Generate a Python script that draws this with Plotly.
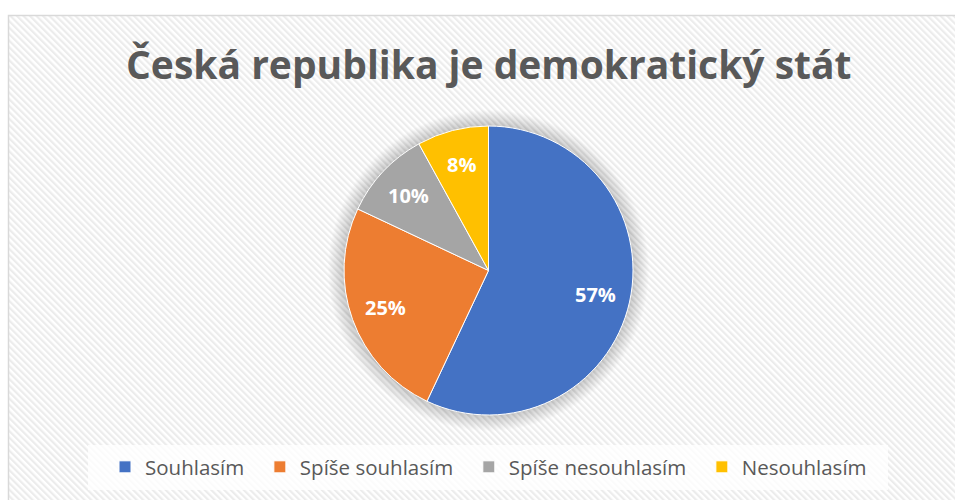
import math
import urllib.parse
import plotly.graph_objects as go

W, H = 955, 500
OFF = 0  # body margin is removed by the post script below

categories = ["Souhlasím", "Spíše souhlasím", "Spíše nesouhlasím", "Nesouhlasím"]
values = [57, 25, 10, 8]
colors = ["#4472C4", "#ED7D31", "#A5A5A5", "#FFC000"]
title_text = "Česká republika je demokratický stát"

# geometry (screen pixels)
CX, CY, R = 488.5, 270.5, 144.5


def px(x):
    return (x - OFF) / W


def py(y):
    return 1 - (y - OFF) / H


legend_labels = [c + "\u00a0\u00a0" for c in categories]

fig = go.Figure()
fig.add_trace(go.Pie(
    labels=legend_labels,
    values=values,
    customdata=categories,
    hovertemplate="%{customdata}: %{percent}<extra></extra>",
    marker=dict(colors=colors, line=dict(color="white", width=1)),
    sort=False,
    direction="clockwise",
    rotation=0,
    textinfo="none",
    domain=dict(x=[px(CX - R), px(CX + R)], y=[py(CY + R), py(CY - R)]),
))

# hatched background as inline SVG
svg = (
    "<svg xmlns='http://www.w3.org/2000/svg' width='947' height='485' viewBox='0 0 947 485'>"
    "<defs><pattern id='p' width='4.6' height='4.6' patternUnits='userSpaceOnUse' patternTransform='rotate(-45)'>"
    "<rect width='4.6' height='4.6' fill='#ffffff'/><rect width='2.2' height='4.6' fill='#ececec'/></pattern></defs>"
    "<rect width='947' height='485' fill='url(#p)'/></svg>"
)
src = "data:image/svg+xml;charset=utf-8," + urllib.parse.quote(svg)

shapes = []
# soft shadow around pie
for i in range(16, 0, -1):
    r = R + i
    shapes.append(dict(type="circle", xref="paper", yref="paper",
                       x0=px(CX - r), x1=px(CX + r), y0=py(CY + r), y1=py(CY - r),
                       fillcolor="rgba(0,0,0,0.011)", line=dict(width=0), layer="below"))
# legend background
shapes.append(dict(type="rect", xref="paper", yref="paper",
                   x0=px(88), x1=px(888), y0=py(490), y1=py(445),
                   fillcolor="rgba(255,255,255,0.8)", line=dict(width=0), layer="below"))
# chart border
shapes.append(dict(type="rect", xref="paper", yref="paper",
                   x0=px(8.5), x1=px(975), y0=py(525), y1=py(15.5),
                   fillcolor="rgba(0,0,0,0)", line=dict(color="#d9d9d9", width=1.5), layer="above"))

# percentage labels at slice mid-angles
total = sum(values)
annotations = []
cum = 0
for v in values:
    mid = (cum + v / 2) / total * 2 * math.pi
    cum += v
    rr = 0.76 * R
    x = CX + rr * math.sin(mid)
    y = CY - rr * math.cos(mid)
    annotations.append(dict(x=px(x), y=py(y), xref="paper", yref="paper",
                            xanchor="center", yanchor="middle",
                            text=f"{round(v / total * 100)}%", showarrow=False,
                            font=dict(family="Open Sans", size=20, color="white", weight=700)))
annotations.append(dict(x=px(488.5), y=py(63), xref="paper", yref="paper",
                        xanchor="center", yanchor="middle",
                        text=title_text, showarrow=False,
                        font=dict(family="Open Sans", size=39, color="#595959", weight=700)))

fig.update_layout(
    width=W, height=H,
    margin=dict(l=0, r=0, t=0, b=0),
    paper_bgcolor="white",
    plot_bgcolor="rgba(0,0,0,0)",
    images=[dict(source=src, xref="paper", yref="paper", x=px(8), y=py(15),
                 sizex=947 / W, sizey=485 / H, xanchor="left", yanchor="top",
                 sizing="stretch", layer="below")],
    shapes=shapes,
    annotations=annotations,
    showlegend=True,
    legend=dict(orientation="h", x=px(494), xanchor="center", y=py(467), yanchor="middle",
                bgcolor="rgba(0,0,0,0)", font=dict(family="Open Sans", size=20.5, color="#595959"),
                itemclick=False, itemdoubleclick=False),
)

fig.write_html(
    "out.html",
    config={"displayModeBar": False},
    post_script="document.documentElement.style.overflow='hidden';"
                "document.body.style.margin='0';document.body.style.overflow='hidden';",
)
